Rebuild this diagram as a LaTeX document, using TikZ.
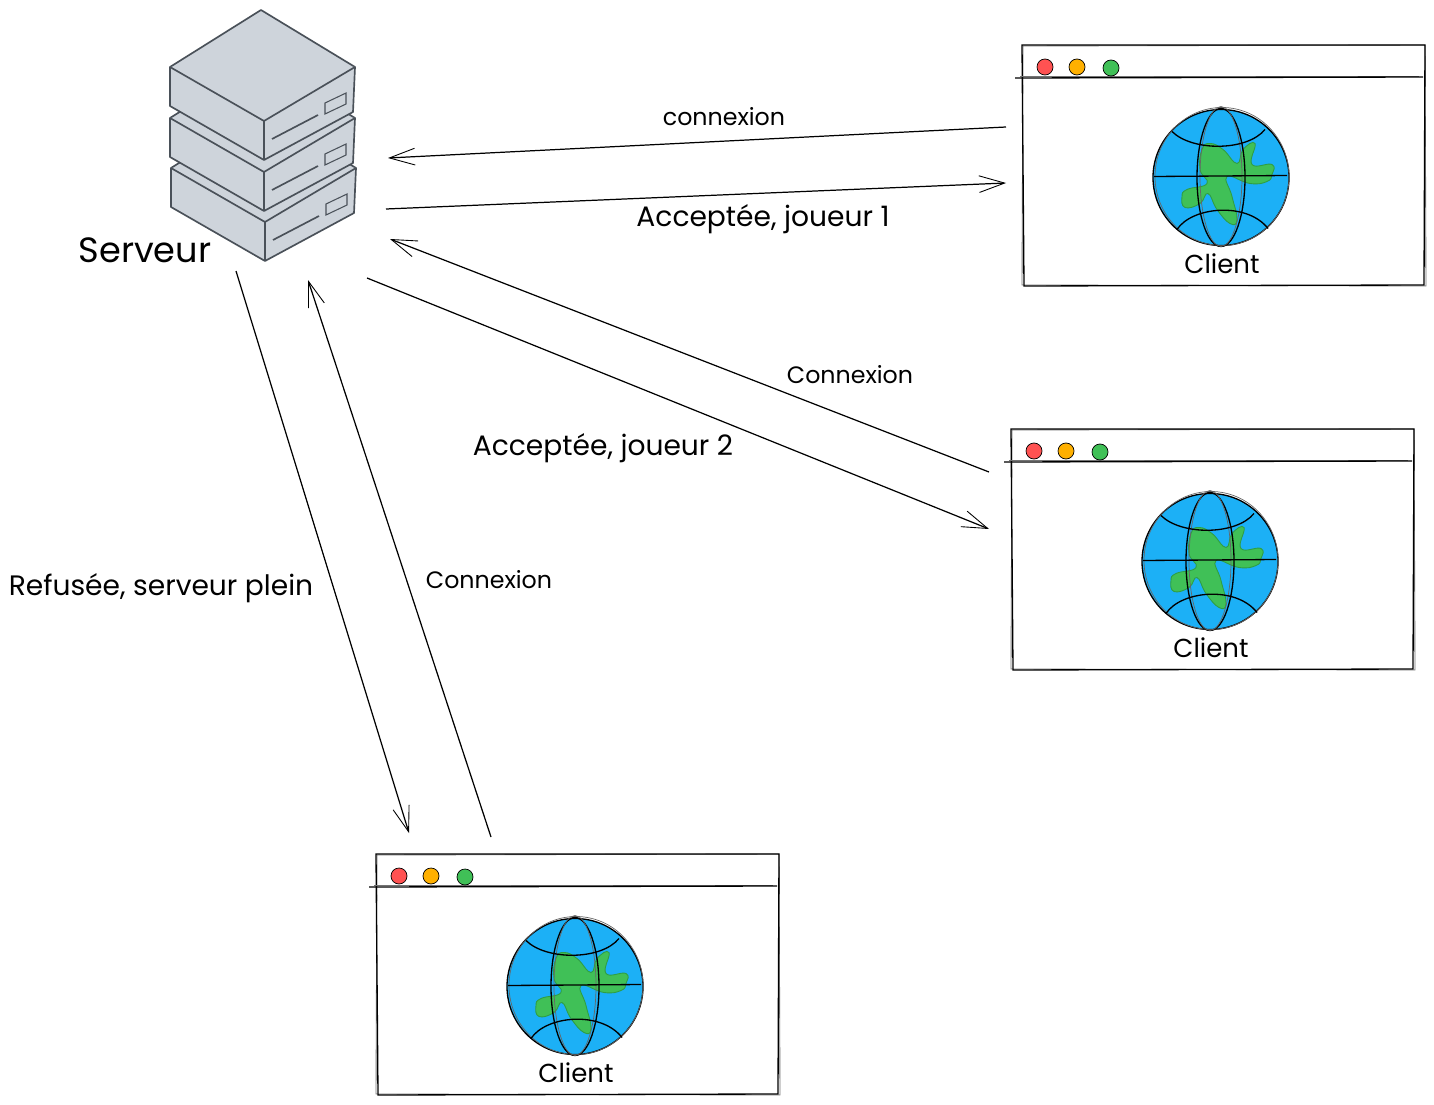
\documentclass[tikz,border=0pt]{standalone}
\usepackage{fontspec}
\setmainfont{Poppins}
\usetikzlibrary{arrows.meta}
\definecolor{rackfill}{HTML}{CED4DB}
\definecolor{rackline}{HTML}{4A5159}
\definecolor{globeblue}{HTML}{1CB0F6}
\definecolor{landgreen}{HTML}{40C057}
\definecolor{landline}{HTML}{2F9E44}
\definecolor{btnred}{HTML}{FF5252}
\definecolor{btnorange}{HTML}{FFB000}
\tikzset{
    fleche/.style={line width=0.7pt, -{Straight Barb[length=14.5pt,width=9.5pt,line width=0.5pt]}},
    etiquette/.style={inner sep=0pt, font=\fontsize{13.5}{16}\selectfont},
    grande/.style={etiquette, font=\fontsize{16}{18}\selectfont},
    trait/.style={line width=0.75pt, black},
    rack/.style={line width=0.95pt, draw=rackline, fill=rackfill, line join=round},
    fenetre/.pic={
        % cadre
        \draw[line width=0.5pt, black!55] (1,1) -- (403,0) -- (404,241) -- (0,240) -- cycle;
        \draw[trait, fill=none] (0,0) -- (403,0) -- (402,240) -- (2,241) -- cycle;
        % barre du haut
        \draw[line width=0.5pt, black!55] (-2,31) -- (397,31);
        \draw[trait] (-7,33) -- (401,32);
        % boutons
        \foreach \x/\y/\c in {23/22/btnred, 55/22/btnorange, 89/23/landgreen} {
            \draw[line width=0.4pt, fill=\c] (\x,\y) circle [x radius=8, y radius=8];
        }
        % globe
        \begin{scope}[shift={(0,1.5)}]
            \fill[globeblue] (199,131) ellipse [x radius=68, y radius=68];
            \draw[fill=landgreen, draw=landline, line width=0.5pt] plot[smooth cycle, tension=0.8] coordinates {
                (188,97) (201,103) (215,117) (221,103) (233,97) (230,118) (250,118) (250,128)
                (245,135) (228,137) (205,130) (210,150) (215,173) (208,177) (195,163) (186,147)
                (178,157) (163,161) (160,150) (165,143) (185,137) (178,123) (180,103)};
            \draw[trait] (199,131) ellipse [x radius=68, y radius=68];
            \draw[line width=0.4pt, black!60] (200,130) ellipse [x radius=67, y radius=69];
            \draw[trait] (199,131) ellipse [x radius=24, y radius=69];
            \draw[line width=0.4pt, black!60] (199,130) ellipse [x radius=21, y radius=70];
            \draw[trait] (132,130) -- (265,129);
            \draw[trait] (150,85) .. controls (170,105) and (225,105) .. (243,83);
            \draw[trait] (155,183) .. controls (170,160) and (225,155) .. (246,182);
        \end{scope}
        \node[etiquette, font=\fontsize{14.8}{17}\selectfont] (nom) at (200,219) {Client};
    }
}
\begin{document}
\begin{tikzpicture}[x=0.02cm, y=-0.02cm]
    \useasboundingbox (0,0) rectangle (1434,1105);

    % Serveur : trois boitiers, du bas vers le haut
    \foreach \dx/\dy in {1/101, 0/51, 0/0} {
        \begin{scope}[shift={(\dx,\dy)}]
            \draw[rack] (261,10) -- (355,67) -- (353,112) -- (264,160) -- (170,106) -- (170,67) -- cycle;
            \draw[rack] (170,67) -- (264,121) -- (355,67);
            \draw[rack] (264,121) -- (264,160);
            \draw[rack] (272,139) -- (318,115);
            \draw[rackline, line width=0.6pt] (325,103) -- (346,93) -- (346,104) -- (325,114) -- cycle;
        \end{scope}
    }
    \node[etiquette, font=\fontsize{20}{22}\selectfont] (serveur) at (145,250) {Serveur};

    % Les trois clients
    \path (1022,45) pic (clientA) {fenetre};
    \path (1011,429) pic (clientB) {fenetre};
    \path (376,854) pic (clientC) {fenetre};

    % Extremites des fleches
    \coordinate (a1) at (1006,127);
    \coordinate (a2) at (388,158);
    \coordinate (b1) at (386,209);
    \coordinate (b2) at (1006,183);
    \coordinate (c1) at (989,472);
    \coordinate (c2) at (390,239);
    \coordinate (d1) at (367,278);
    \coordinate (d2) at (989,529);
    \coordinate (e1) at (236,271);
    \coordinate (e2) at (409,833);
    \coordinate (f1) at (491,837);
    \coordinate (f2) at (308,280);

    \foreach \depart/\arrivee in {a1/a2, b1/b2, c1/c2, d1/d2, e1/e2, f1/f2} {
        \draw[fleche] (\depart) -- (\arrivee);
    }

    % Textes des echanges
    \node[etiquette] (txta) at (724,117) {connexion};
    \node[grande] (txtb) at (763,219) {Acceptée, joueur 1};
    \node[etiquette] (txtc) at (850,375) {Connexion};
    \node[grande] (txtd) at (603,448) {Acceptée, joueur 2};
    \node[grande] (txte) at (161,588) {Refusée, serveur plein};
    \node[etiquette] (txtf) at (489,580) {Connexion};
\end{tikzpicture}
\end{document}
